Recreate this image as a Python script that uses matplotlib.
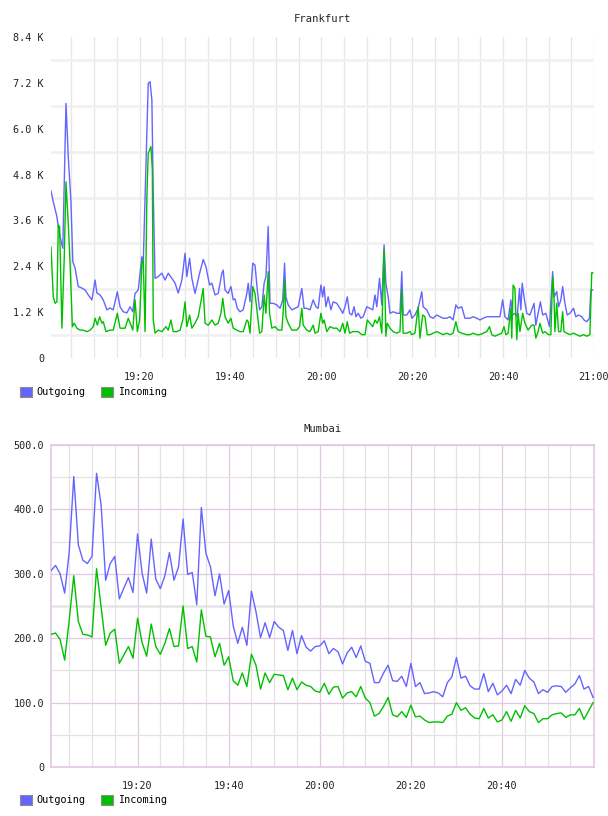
import matplotlib
matplotlib.use('Agg')
import matplotlib.pyplot as plt
from matplotlib.patches import Patch
import numpy as np

# ---------------- data ----------------
series_names = ['Outgoing', 'Incoming']
x_tick_labels = ['19:20', '19:40', '20:00', '20:20', '20:40', '21:00']

# Frankfurt: time in minutes after 19:00, values in bytes/s
fra_out_t = [0.5, 1.0, 1.8, 2.1, 2.5, 3.1, 3.8, 4.3, 4.9, 5.3,
             5.8, 6.5, 7.3, 8.0, 8.7, 9.5, 10.2, 10.6, 11.3, 12.0,
             12.8, 13.5, 14.2, 15.1, 15.7, 16.4, 17.2, 17.9, 18.5, 19.0,
             19.7, 20.5, 20.8, 21.4, 21.9, 22.3, 22.7, 23.0, 23.4, 24.1,
             24.9, 25.6, 26.3, 27.1, 27.8, 28.5, 29.3, 30.0, 30.4, 31.0,
             31.5, 32.2, 33.2, 34.0, 34.6, 35.4, 35.9, 36.6, 37.3, 38.1,
             38.4, 38.8, 39.5, 40.1, 40.6, 41.0, 41.5, 42.1, 42.8, 43.6,
             43.9, 44.3, 44.9, 45.4, 45.9, 46.4, 46.9, 47.4, 47.8, 48.3,
             48.7, 49.4, 50.2, 50.9, 51.5, 51.9, 52.2, 52.7, 53.5, 54.2,
             54.9, 55.7, 56.2, 56.8, 57.5, 58.2, 58.8, 59.3, 59.9, 60.3,
             60.6, 61.0, 61.5, 62.1, 62.6, 63.4, 64.1, 64.7, 65.2, 65.7,
             66.2, 66.7, 67.2, 67.6, 68.1, 68.7, 69.2, 70.0, 70.7, 71.3,
             71.8, 72.2, 72.8, 73.3, 73.8, 74.2, 74.7, 75.1, 75.8, 76.6,
             77.3, 77.7, 78.0, 78.8, 79.5, 79.9, 80.6, 81.3, 82.1, 82.4,
             83.2, 83.9, 84.6, 85.4, 86.1, 86.8, 87.6, 88.3, 89.0, 89.6,
             90.1, 90.9, 91.6, 92.7, 93.4, 94.2, 94.9, 95.6, 96.4, 97.1,
             97.8, 98.6, 99.3, 99.9, 100.4, 101.1, 101.7, 102.1, 102.6, 103.1,
             103.6, 103.9, 104.2, 104.7, 105.2, 105.9, 106.8, 107.2, 107.7, 108.2,
             108.7, 109.4, 110.2, 110.9, 111.2, 111.8, 112.2, 112.7, 113.1, 113.6,
             114.1, 114.7, 115.5, 116.0, 116.6, 117.3, 117.8, 118.4, 119.0, 119.3, 119.7]
fra_out_v = [4370, 4090, 3700, 3440, 3170, 2870, 6660, 5270, 4060, 2520,
             2350, 1870, 1830, 1780, 1650, 1520, 2040, 1700, 1650, 1520,
             1260, 1310, 1260, 1735, 1340, 1210, 1180, 1340, 1210, 1690,
             1780, 2650, 2480, 5095, 7190, 7230, 6750, 4320, 2085, 2130,
             2220, 2040, 2220, 2085, 1960, 1700, 2040, 2740, 2130, 2610,
             2085, 1690, 2215, 2580, 2390, 1910, 1960, 1650, 1690, 2215,
             2300, 1780, 1690, 1870, 1520, 1550, 1300, 1210, 1260, 1690,
             1955, 1470, 2480, 2430, 1780, 1260, 1340, 1955, 2130, 3440,
             1430, 1430, 1390, 1300, 1520, 2480, 1600, 1390, 1260, 1300,
             1340, 1820, 1300, 1300, 1260, 1520, 1340, 1300, 1910, 1600,
             1870, 1340, 1600, 1260, 1470, 1430, 1300, 1170, 1340, 1600,
             1170, 1125, 1340, 1080, 1170, 1040, 1080, 1340, 1300, 1260,
             1650, 1340, 2085, 1390, 2960, 1955, 1600, 1170, 1210, 1170,
             1170, 2260, 1125, 1125, 1260, 1040, 1125, 1300, 1735, 1340,
             1260, 1080, 1040, 1125, 1080, 1040, 1040, 1080, 995, 1390,
             1300, 1340, 1040, 1040, 1080, 1040, 995, 1040, 1080, 1080,
             1080, 1080, 1080, 1520, 1080, 995, 1520, 1125, 1170, 1080,
             1820, 1260, 1955, 1520, 1170, 1125, 1430, 860, 1170, 1470,
             1125, 1170, 820, 2260, 1600, 1735, 1340, 1520, 1870, 1430,
             1125, 1170, 1300, 1080, 1125, 1080, 995, 950, 1040, 1780, 1780]

fra_in_t = [0.5, 1.0, 1.4, 1.8, 2.1, 2.4, 2.9, 3.4, 3.8, 4.3,
            4.7, 5.2, 5.6, 6.2, 6.9, 7.6, 8.4, 9.1, 9.8, 10.2,
            10.7, 11.2, 11.7, 12.0, 12.6, 13.5, 14.2, 15.1, 15.7, 16.8,
            17.5, 18.1, 18.5, 19.0, 19.5, 20.0, 20.5, 20.8, 21.2, 21.6,
            21.9, 22.5, 22.8, 23.0, 23.4, 24.1, 24.9, 25.8, 26.3, 26.9,
            27.4, 28.2, 28.9, 29.5, 30.0, 30.4, 31.0, 31.5, 32.2, 32.9,
            34.0, 34.4, 35.1, 35.9, 36.6, 37.3, 37.9, 38.3, 38.8, 39.5,
            40.1, 40.6, 41.4, 42.1, 42.8, 43.6, 43.9, 44.3, 44.9, 45.4,
            45.9, 46.4, 46.9, 47.4, 47.8, 48.3, 48.6, 49.1, 49.8, 50.5,
            51.3, 51.6, 51.9, 52.2, 52.7, 53.5, 54.6, 55.2, 55.7, 56.0,
            56.8, 57.5, 58.2, 58.6, 59.3, 59.9, 60.3, 60.6, 61.2, 61.9,
            62.6, 63.4, 64.1, 64.7, 65.2, 65.7, 66.2, 66.9, 67.6, 68.1,
            68.9, 69.6, 70.1, 70.7, 71.3, 71.8, 72.3, 72.8, 73.3, 73.8,
            74.2, 74.5, 75.1, 75.8, 76.6, 77.3, 77.7, 78.0, 78.8, 79.5,
            79.9, 80.6, 81.3, 81.7, 82.3, 82.8, 83.3, 83.9, 84.6, 85.4,
            86.1, 86.8, 87.6, 88.3, 89.0, 89.6, 90.1, 90.9, 92.0, 92.7,
            93.4, 94.2, 94.9, 95.6, 96.4, 97.0, 97.5, 98.2, 98.9, 99.7,
            100.2, 100.6, 101.1, 101.7, 101.9, 102.2, 102.6, 103.0, 103.3, 103.7,
            104.3, 104.8, 105.5, 106.3, 106.8, 107.2, 107.7, 108.1, 108.7, 109.2,
            110.0, 110.5, 110.9, 111.2, 111.4, 111.8, 112.2, 112.7, 113.1, 113.4,
            114.0, 114.7, 115.5, 116.2, 116.9, 117.7, 118.4, 119.1, 119.5, 119.7]
fra_in_v = [2900, 1600, 1430, 1470, 3480, 3440, 780, 2560, 4610, 3520,
            2480, 820, 910, 780, 730, 730, 690, 730, 820, 1040,
            860, 1080, 910, 950, 690, 730, 730, 1170, 780, 780,
            1040, 860, 730, 1520, 690, 995, 2480, 2560, 690, 4220,
            5360, 5530, 4920, 995, 650, 730, 690, 820, 730, 995,
            690, 690, 730, 995, 1470, 820, 1125, 780, 910, 1080,
            1820, 910, 860, 995, 860, 910, 1170, 1560, 1080, 910,
            1040, 780, 730, 690, 690, 995, 950, 650, 1870, 1690,
            1170, 650, 690, 1650, 1170, 2260, 1170, 780, 820, 730,
            730, 1210, 2040, 1080, 910, 730, 730, 820, 1300, 860,
            730, 690, 860, 650, 690, 1170, 910, 995, 690, 820,
            780, 780, 690, 910, 650, 950, 650, 690, 690, 690,
            610, 610, 995, 910, 820, 995, 910, 1080, 650, 2830,
            570, 910, 780, 690, 650, 690, 1780, 650, 650, 690,
            610, 650, 1340, 520, 1125, 1080, 610, 610, 650, 690,
            650, 610, 650, 610, 650, 950, 690, 650, 610, 610,
            650, 610, 610, 650, 690, 820, 610, 570, 610, 650,
            820, 610, 650, 1300, 520, 1910, 1820, 480, 1170, 690,
            1170, 910, 730, 860, 860, 520, 690, 910, 650, 690,
            610, 610, 2130, 1600, 690, 1430, 690, 690, 1210, 690,
            650, 610, 650, 610, 570, 610, 570, 610, 2230, 2230]

fra_y_ticks = [0, 1200, 2400, 3600, 4800, 6000, 7200, 8400]
fra_y_labels = ['0', '1.2 K', '2.4 K', '3.6 K', '4.8 K', '6.0 K', '7.2 K', '8.4 K']

# Mumbai: one sample per minute starting 19:01
mum_start = '19:01'
mum_out = [305, 313, 300, 270, 334, 451, 345, 321, 316, 327,
           456, 407, 290, 316, 327, 261, 278, 294, 271, 362,
           301, 270, 354, 292, 277, 297, 333, 290, 311, 385,
           299, 302, 252, 403, 332, 311, 266, 300, 253, 274,
           219, 192, 217, 189, 273, 241, 201, 224, 201, 226,
           217, 212, 181, 212, 176, 204, 186, 180, 187, 188,
           196, 176, 184, 179, 160, 177, 186, 170, 188, 164,
           161, 131, 131, 146, 158, 134, 133, 141, 125, 161,
           125, 131, 114, 115, 117, 115, 109, 131, 140, 170,
           138, 141, 126, 121, 121, 145, 117, 130, 112, 118,
           127, 114, 136, 127, 150, 138, 132, 114, 120, 116,
           125, 126, 125, 116, 123, 129, 142, 121, 125, 108]
mum_in = [206, 208, 198, 166, 228, 297, 226, 206, 205, 202,
          308, 249, 189, 208, 214, 161, 174, 187, 169, 231,
          193, 172, 222, 187, 175, 192, 215, 187, 188, 250,
          184, 187, 163, 244, 203, 202, 171, 192, 158, 171,
          134, 127, 146, 125, 175, 158, 121, 146, 131, 144,
          143, 142, 120, 138, 120, 132, 127, 125, 118, 116,
          130, 113, 124, 125, 107, 115, 117, 109, 125, 107,
          100, 79, 83, 94, 108, 81, 78, 86, 77, 96,
          78, 79, 73, 69, 70, 70, 69, 79, 82, 100,
          88, 92, 82, 76, 75, 91, 76, 81, 70, 73,
          86, 71, 88, 76, 95, 86, 83, 69, 75, 75,
          81, 83, 84, 77, 81, 81, 91, 74, 87, 100]
mum_y_ticks = [0, 100, 200, 300, 400, 500]
mum_y_labels = ['0', '100.0', '200.0', '300.0', '400.0', '500.0']

# ---------------- style ----------------
W, H = 608, 816
FONT = 'DejaVu Sans Mono'
FS = 7.3
TXT = '#222222'
BLUE = '#6464ff'
GREEN = '#00c000'
plt.rcParams['font.family'] = FONT


def hm(s):
    h, m = s.split(':')
    return (int(h) - 19) * 60 + int(m)


tick_pos = [hm(s) for s in x_tick_labels]

fig = plt.figure(figsize=(W / 100, H / 100), dpi=100)


def legend_at(ypix):
    handles = [Patch(facecolor=BLUE, edgecolor='#8c8c8c', lw=0.8, label=series_names[0]),
               Patch(facecolor=GREEN, edgecolor='#8c8c8c', lw=0.8, label=series_names[1])]
    fig.legend(handles=handles, loc='center left',
               bbox_to_anchor=(20 / W, 1 - ypix / H), ncol=2, frameon=False,
               prop={'family': FONT, 'size': FS}, handlelength=1.15, handleheight=1.15,
               handletextpad=0.45, columnspacing=1.6, borderaxespad=0, borderpad=0)


# ---------------- Frankfurt ----------------
ax1 = fig.add_axes([51 / W, 1 - 358 / H, 543 / W, 321 / H])
ax1.plot(fra_out_t, fra_out_v, color=BLUE, lw=1.0, zorder=3)
ax1.plot(fra_in_t, fra_in_v, color=GREEN, lw=1.0, zorder=4)
ax1.set_xlim(0.5, 120)
ax1.set_ylim(0, 8400)
ax1.set_xticks(tick_pos)
ax1.set_xticklabels(x_tick_labels)
ax1.set_xticks(np.arange(5, 121, 5), minor=True)
ax1.set_yticks(fra_y_ticks)
ax1.set_yticklabels(fra_y_labels)
ax1.set_yticks(np.arange(600, 8400, 1200), minor=True)
ax1.grid(which='both', axis='x', color='#e6e6e6', lw=0.9)
ax1.grid(which='minor', axis='y', color='#f0f0f0', lw=1.8)
ax1.set_axisbelow(True)
for s in ax1.spines.values():
    s.set_visible(False)
ax1.tick_params(which='both', length=0, labelsize=FS, labelcolor=TXT)
ax1.tick_params(axis='x', pad=10)
ax1.tick_params(axis='y', pad=5)
ax1.set_title('Frankfurt', fontsize=FS + 0.3, color=TXT, pad=11)
legend_at(392)

# ---------------- Mumbai ----------------
ax2 = fig.add_axes([51 / W, 1 - 767 / H, 543 / W, 322 / H])
mum_t = hm(mum_start) + np.arange(len(mum_out))
ax2.plot(mum_t, mum_out, color=BLUE, lw=1.0, zorder=3)
ax2.plot(mum_t, mum_in, color=GREEN, lw=1.0, zorder=4)
ax2.set_xlim(hm(mum_start), 120.2)
ax2.set_ylim(0, 500)
ax2.set_xticks(tick_pos[:-1])
ax2.set_xticklabels(x_tick_labels[:-1])
ax2.set_xticks(np.arange(5, 120, 5), minor=True)
ax2.set_yticks(mum_y_ticks)
ax2.set_yticklabels(mum_y_labels)
ax2.set_yticks(np.arange(50, 500, 100), minor=True)
PURP = '#e2c8e2'
ax2.grid(which='major', color=PURP, lw=0.9)
ax2.grid(which='minor', color='#e3e3e3', lw=0.9)
ax2.axhline(250, color='#ececec', lw=2.0, zorder=0.5)
ax2.set_axisbelow(True)
for s in ax2.spines.values():
    s.set_color(PURP)
    s.set_linewidth(1.2)
ax2.tick_params(which='both', length=0, labelsize=FS, labelcolor=TXT)
ax2.tick_params(axis='x', pad=10)
ax2.tick_params(axis='y', pad=5)
ax2.set_title('Mumbai', fontsize=FS + 0.3, color=TXT, pad=9)
legend_at(800)

fig.savefig('out.png', dpi=100)
